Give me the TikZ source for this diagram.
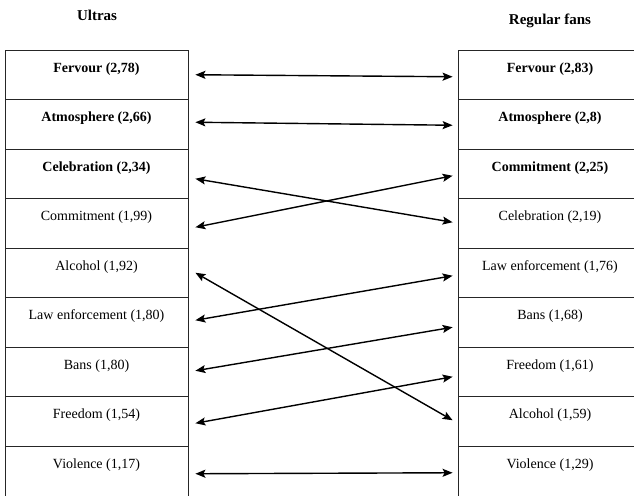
\documentclass[tikz,border=0pt]{standalone}
\usepackage{fontspec}
\setmainfont{Liberation Serif}
\usetikzlibrary{arrows.meta}
\tikzset{
  rowbox/.style={draw=black!85, line width=0.8pt, rectangle, inner sep=0pt,
    text height=22pt, text depth=27.5pt, font=\fontsize{14}{16}\selectfont},
  leftbox/.style={rowbox, minimum width=183pt},
  rightbox/.style={rowbox, minimum width=184pt},
  lastrow/.style={text depth=31pt},
  bold/.style={font=\fontsize{14}{16}\selectfont\bfseries},
  title/.style={anchor=base, font=\fontsize{15}{17}\selectfont\bfseries},
  arr/.style={line width=1.4pt, {Stealth[length=10pt,width=8pt,inset=2pt]}-{Stealth[length=10pt,width=8pt,inset=2pt]}}
}
\begin{document}
\begin{tikzpicture}[x=1pt,y=-1pt]
\useasboundingbox (0,0) rectangle (634,495);
\node[title] (tu) at (97,21) {Ultras};
\node[title] (tr) at (550,25) {Regular fans};
% left column
\node[leftbox,bold] (L0) at (96.5,74.75) {Fervour (2,78)};
\node[leftbox,bold] (L1) at (96.5,124.25) {Atmosphere (2,66)};
\node[leftbox,bold] (L2) at (96.5,173.75) {Celebration (2,34)};
\node[leftbox] (L3) at (96.5,223.25) {Commitment (1,99)};
\node[leftbox] (L4) at (96.5,272.75) {Alcohol (1,92)};
\node[leftbox] (L5) at (96.5,322.25) {Law enforcement (1,80)};
\node[leftbox] (L6) at (96.5,371.75) {Bans (1,80)};
\node[leftbox] (L7) at (96.5,421.25) {Freedom (1,54)};
\node[leftbox,lastrow] (L8) at (96.5,472.5) {Violence (1,17)};
% right column
\node[rightbox,bold] (R0) at (550,74.75) {Fervour (2,83)};
\node[rightbox,bold] (R1) at (550,124.25) {Atmosphere (2,8)};
\node[rightbox,bold] (R2) at (550,173.75) {Commitment (2,25)};
\node[rightbox] (R3) at (550,223.25) {Celebration (2,19)};
\node[rightbox] (R4) at (550,272.75) {Law enforcement (1,76)};
\node[rightbox] (R5) at (550,322.25) {Bans (1,68)};
\node[rightbox] (R6) at (550,371.75) {Freedom (1,61)};
\node[rightbox] (R7) at (550,421.25) {Alcohol (1,59)};
\node[rightbox,lastrow] (R8) at (550,472.5) {Violence (1,29)};
% connectors
\draw[arr] ([xshift=7pt,yshift=0pt]L0.east) -- ([xshift=-5pt,yshift=-2pt]R0.west);
\draw[arr] ([xshift=7pt,yshift=2pt]L1.east) -- ([xshift=-5pt,yshift=-1pt]R1.west);
\draw[arr] ([xshift=7pt,yshift=-5pt]L2.east) -- ([xshift=-5pt,yshift=1pt]R3.west);
\draw[arr] ([xshift=7pt,yshift=-4pt]L3.east) -- ([xshift=-5pt,yshift=-2pt]R2.west);
\draw[arr] ([xshift=7pt,yshift=0pt]L4.east) -- ([xshift=-5pt,yshift=1pt]R7.west);
\draw[arr] ([xshift=7pt,yshift=2pt]L5.east) -- ([xshift=-5pt,yshift=-3pt]R4.west);
\draw[arr] ([xshift=7pt,yshift=1pt]L6.east) -- ([xshift=-5pt,yshift=-5pt]R5.west);
\draw[arr] ([xshift=7pt,yshift=-2pt]L7.east) -- ([xshift=-5pt,yshift=-5pt]R6.west);
\draw[arr] ([xshift=7pt,yshift=-1.25pt]L8.east) -- ([xshift=-5pt,yshift=-0.25pt]R8.west);
\end{tikzpicture}
\end{document}
